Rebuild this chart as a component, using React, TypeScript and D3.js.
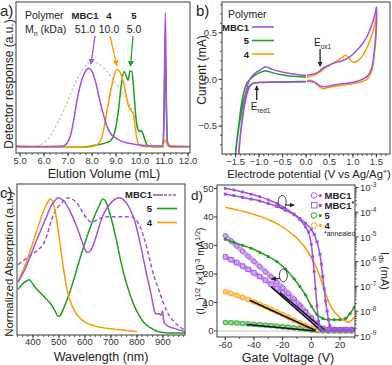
import React from "react";
import * as d3 from "d3";

type Pt = [number, number];

const FONT = "'Liberation Sans', Arial, Helvetica, sans-serif";
const PURPLE = "#a052e0";
const PURPLE_LIGHT = "#cfa6f2";
const GREEN = "#1f9f1f";
const GREEN_LIGHT = "#9ed89e";
const ORANGE = "#ff9a00";
const ORANGE_LIGHT = "#ffd08a";
const AXIS = "#3a3a3a";

// ---------- a) SEC traces: elution volume (mL) vs detector response
const secTicks = [5, 6, 7, 8, 9, 10, 11, 12];
const secPolymers = ["MBC1", "4", "5"];
const secMn = ["51.0", "10.0", "5.0"];
const secPeaks: Pt[] = [[7.95, 0.59], [9.03, 0.58], [9.6, 0.575]];
const secRef: Pt[] = [[5.5, 0.005], [6.0, 0.04], [6.3, 0.1], [6.6, 0.2], [6.9, 0.31], [7.2, 0.44], [7.5, 0.55], [7.8, 0.62], [8.0, 0.64], [8.3, 0.62], [8.7, 0.55], [9.1, 0.45], [9.45, 0.36], [9.75, 0.24], [10.0, 0.13], [10.2, 0.07], [10.4, 0.035], [10.7, 0.01], [11.0, 0.005]];
const secMBC1: Pt[] = [[4.83, 0.015], [5.5, 0.012], [6.2, 0.012], [6.8, 0.015], [6.95, 0.035], [7.1, 0.09], [7.25, 0.22], [7.4, 0.38], [7.55, 0.49], [7.7, 0.56], [7.87, 0.59], [8.0, 0.565], [8.13, 0.5], [8.25, 0.41], [8.35, 0.33], [8.5, 0.23], [8.62, 0.16], [8.8, 0.1], [9.03, 0.07], [9.3, 0.045], [9.7, 0.03], [10.1, 0.02], [10.5, 0.015], [10.9, 0.015], [10.97, 0.06], [11.01, 0.45], [11.05, 1.0], [11.09, 0.45], [11.13, 0.06], [11.25, 0.015], [12.08, 0.012]];
const secP4: Pt[] = [[4.83, 0.005], [7.0, 0.005], [7.8, 0.008], [8.1, 0.015], [8.3, 0.04], [8.45, 0.11], [8.6, 0.25], [8.75, 0.4], [8.9, 0.52], [9.03, 0.58], [9.15, 0.565], [9.3, 0.49], [9.42, 0.39], [9.52, 0.31], [9.62, 0.28], [9.72, 0.25], [9.8, 0.15], [9.88, 0.06], [9.98, 0.02], [10.2, 0.01], [10.9, 0.01], [10.98, 0.035], [11.05, 0.06], [11.12, 0.03], [11.25, 0.008], [12.08, 0.008]];
const secP5: Pt[] = [[4.83, 0.005], [7.3, 0.005], [7.8, 0.01], [8.1, 0.02], [8.4, 0.03], [8.6, 0.04], [8.8, 0.06], [8.95, 0.12], [9.1, 0.28], [9.22, 0.47], [9.33, 0.565], [9.43, 0.53], [9.5, 0.5], [9.58, 0.57], [9.66, 0.565], [9.74, 0.42], [9.82, 0.24], [9.9, 0.14], [9.98, 0.12], [10.05, 0.13], [10.13, 0.1], [10.22, 0.05], [10.35, 0.015], [10.6, 0.01], [10.96, 0.01], [11.0, 0.25], [11.05, 0.75], [11.1, 0.25], [11.15, 0.02], [11.3, 0.01], [12.08, 0.01]];

// ---------- b) cyclic voltammetry: potential (V) vs current (mA)
const cvTicks = [-1.5, -1.0, -0.5, 0.0, 0.5, 1.0, 1.5];
const cvCurrentTicks = [-0.5, 0.0, 0.5];
const cvMBC1Red: Pt[] = [[0, -0.025], [-0.3, -0.028], [-0.6, -0.03], [-0.9, -0.032], [-1.05, -0.035], [-1.13, -0.045], [-1.2, -0.08], [-1.26, -0.16], [-1.31, -0.28], [-1.36, -0.45], [-1.4, -0.62], [-1.44, -0.84], [-1.42, -0.7], [-1.38, -0.5], [-1.33, -0.3], [-1.28, -0.14], [-1.23, -0.04], [-1.17, 0.02], [-1.1, 0.06], [-1.0, 0.095], [-0.92, 0.12], [-0.86, 0.135], [-0.8, 0.125], [-0.7, 0.105], [-0.55, 0.085], [-0.4, 0.068], [-0.2, 0.052], [0, 0.042]];
const cvMBC1Ox: Pt[] = [[0.02, 0.045], [0.1, 0.052], [0.2, 0.065], [0.28, 0.085], [0.33, 0.11], [0.4, 0.13], [0.5, 0.155], [0.6, 0.175], [0.7, 0.19], [0.8, 0.205], [0.9, 0.23], [1.0, 0.27], [1.1, 0.32], [1.2, 0.38], [1.3, 0.46], [1.4, 0.58], [1.47, 0.7], [1.5, 0.78], [1.49, 0.5], [1.45, 0.28], [1.4, 0.12], [1.3, 0.03], [1.15, -0.01], [1.0, -0.03], [0.8, -0.045], [0.6, -0.06], [0.45, -0.075], [0.38, -0.08], [0.3, -0.07], [0.22, -0.04], [0.15, -0.025], [0.05, -0.02], [0.02, -0.025]];
const cvP5Red: Pt[] = [[0, -0.022], [-0.3, -0.025], [-0.6, -0.028], [-0.9, -0.03], [-1.05, -0.033], [-1.15, -0.045], [-1.22, -0.08], [-1.29, -0.16], [-1.35, -0.28], [-1.41, -0.45], [-1.46, -0.62], [-1.51, -0.84], [-1.48, -0.68], [-1.43, -0.48], [-1.38, -0.28], [-1.32, -0.13], [-1.26, -0.04], [-1.19, 0.0], [-1.1, 0.04], [-1.0, 0.07], [-0.92, 0.085], [-0.87, 0.092], [-0.8, 0.085], [-0.7, 0.07], [-0.55, 0.052], [-0.4, 0.04], [-0.2, 0.03], [0, 0.025]];
const cvP4Ox: Pt[] = [[0.02, 0.02], [0.1, 0.035], [0.2, 0.05], [0.3, 0.08], [0.4, 0.12], [0.5, 0.15], [0.6, 0.18], [0.7, 0.21], [0.78, 0.24], [0.84, 0.26], [0.9, 0.24], [0.96, 0.2], [1.02, 0.185], [1.1, 0.2], [1.2, 0.25], [1.3, 0.34], [1.4, 0.47], [1.47, 0.6], [1.5, 0.68], [1.49, 0.45], [1.45, 0.25], [1.4, 0.09], [1.3, 0.0], [1.15, -0.03], [1.0, -0.045], [0.8, -0.06], [0.6, -0.075], [0.45, -0.09], [0.38, -0.1], [0.3, -0.085], [0.22, -0.05], [0.15, -0.02], [0.08, -0.01], [0.03, -0.015]];
const cvEox1 = 0.3;
const cvEred1 = -1.05;

// ---------- c) absorption: wavelength (nm) vs normalized absorbance
const absTicks = [400, 500, 600, 700, 800, 900];
const absMBC1Sol: Pt[] = [[343, 0.38], [370, 0.48], [400, 0.62], [425, 0.74], [450, 0.85], [470, 0.94], [485, 0.98], [497, 1.0], [510, 0.99], [525, 0.96], [540, 0.91], [555, 0.85], [570, 0.78], [585, 0.7], [598, 0.63], [608, 0.6], [620, 0.61], [635, 0.67], [650, 0.76], [665, 0.85], [680, 0.91], [695, 0.95], [710, 0.98], [728, 1.0], [745, 0.99], [760, 0.96], [775, 0.91], [790, 0.84], [805, 0.73], [820, 0.6], [835, 0.46], [848, 0.35], [858, 0.26], [866, 0.18], [872, 0.15], [885, 0.15], [893, 0.14], [898, 0.17], [901, 0.13], [906, 0.08], [920, 0.06], [950, 0.04], [985, 0.02]];
const absMBC1Film: Pt[] = [[343, 0.51], [370, 0.55], [400, 0.59], [420, 0.62], [440, 0.66], [455, 0.73], [470, 0.83], [485, 0.9], [500, 0.94], [515, 0.97], [535, 1.0], [550, 0.99], [565, 0.97], [580, 0.93], [595, 0.88], [610, 0.84], [625, 0.82], [640, 0.83], [660, 0.85], [690, 0.86], [720, 0.86], [750, 0.86], [775, 0.86], [795, 0.84], [810, 0.8], [825, 0.72], [840, 0.62], [855, 0.5], [870, 0.4], [885, 0.32], [900, 0.24], [915, 0.17], [935, 0.11], [955, 0.07], [985, 0.03]];
const absP5: Pt[] = [[343, 0.33], [360, 0.37], [375, 0.39], [385, 0.4], [395, 0.38], [410, 0.34], [430, 0.3], [450, 0.26], [470, 0.22], [485, 0.17], [497, 0.13], [505, 0.14], [520, 0.2], [540, 0.3], [560, 0.42], [580, 0.55], [600, 0.67], [620, 0.78], [640, 0.88], [655, 0.94], [668, 0.99], [678, 0.98], [690, 0.92], [705, 0.82], [720, 0.7], [735, 0.56], [750, 0.44], [765, 0.34], [785, 0.23], [805, 0.15], [825, 0.09], [850, 0.05], [880, 0.02], [920, 0.01], [985, 0.01]];
const absP4: Pt[] = [[343, 0.39], [360, 0.46], [380, 0.56], [400, 0.67], [420, 0.79], [440, 0.9], [455, 0.96], [466, 0.99], [474, 0.98], [482, 0.93], [490, 0.85], [500, 0.72], [510, 0.58], [520, 0.45], [530, 0.34], [540, 0.26], [555, 0.19], [575, 0.13], [600, 0.09], [640, 0.06], [700, 0.04], [750, 0.03], [800, 0.02]];

// ---------- d) transfer curves: gate voltage (V)
const vgTicks = [-60, -40, -20, 0, 20];
const sqrtTicks = [0, 10, 20, 30, 40, 50];
const logDecades = [-9, -8, -7, -6, -5, -4, -3];
// (Ids)^1/2, x10^-3 mA^1/2
const sqrtMBC1: Pt[] = [[-60, 33.4], [-56, 31.6], [-52, 29.8], [-48, 28], [-44, 26.2], [-40, 24.4], [-36, 22.6], [-32, 20.8], [-28, 19], [-24, 17.1], [-20, 15.2], [-16, 13.2], [-12, 11.2], [-8, 9.1], [-4, 6.9], [0, 4.6], [4, 2.3], [8, 0.7], [12, 0.5], [16, 0.5], [20, 0.5], [24, 0.5], [28, 0.5]];
const sqrtMBC1a: Pt[] = [[-60, 26], [-56, 25], [-52, 23.9], [-48, 22.8], [-44, 21.6], [-40, 20.4], [-36, 19.1], [-32, 17.8], [-28, 16.4], [-24, 14.9], [-20, 13.4], [-16, 11.8], [-12, 10.1], [-8, 8.3], [-4, 6.4], [0, 4.4], [4, 2.4], [8, 0.9], [12, 0.5], [16, 0.5], [20, 0.5], [24, 0.5], [28, 0.5]];
const sqrtP5: Pt[] = [[-60, 3], [-56, 2.9], [-52, 2.8], [-48, 2.65], [-44, 2.5], [-40, 2.35], [-36, 2.2], [-32, 2.05], [-28, 1.9], [-24, 1.7], [-20, 1.5], [-16, 1.3], [-12, 1.1], [-8, 0.85], [-4, 0.6], [0, 0.35], [4, 0.15], [8, 0.05], [12, 0], [16, 0], [20, 0], [24, 0], [28, 0]];
const sqrtP4: Pt[] = [[-60, 13.8], [-56, 13.2], [-52, 12.5], [-48, 11.8], [-44, 11], [-40, 10.2], [-36, 9.4], [-32, 8.5], [-28, 7.6], [-24, 6.7], [-20, 5.8], [-16, 4.8], [-12, 3.8], [-8, 2.8], [-4, 1.9], [0, 1.1], [4, 0.7], [8, 0.6], [12, 0.6], [16, 0.6], [20, 0.6], [24, 0.6], [28, 0.6]];
// log10(Ids / mA)
const logMBC1: Pt[] = [[-60, -3.04], [-54, -3.1], [-48, -3.18], [-42, -3.27], [-36, -3.37], [-30, -3.5], [-24, -3.65], [-18, -3.85], [-12, -4.08], [-8, -4.3], [-4, -4.6], [-2, -4.8], [0, -5.3], [1, -5.8], [2, -6.4], [3, -7.1], [4, -7.8], [5, -8.4], [6, -8.7], [8, -8.8], [12, -8.8], [16, -8.8], [20, -8.8], [24, -8.8], [28, -8.8]];
const logMBC1a: Pt[] = [[-60, -3.27], [-54, -3.33], [-48, -3.4], [-42, -3.47], [-36, -3.55], [-30, -3.65], [-24, -3.77], [-18, -3.92], [-12, -4.1], [-8, -4.25], [-4, -4.45], [0, -4.7], [2, -4.9], [4, -5.2], [6, -5.7], [7, -6.1], [8, -6.6], [9, -7.1], [10, -7.6], [11, -8.0], [12, -8.35], [13, -8.6], [15, -8.75], [18, -8.75], [22, -8.75], [26, -8.75], [30, -8.75]];
const logP5: Pt[] = [[-60, -5.1], [-54, -5.22], [-48, -5.34], [-42, -5.46], [-36, -5.62], [-30, -5.8], [-24, -6.0], [-18, -6.3], [-12, -6.7], [-8, -7.0], [-4, -7.35], [0, -7.8], [4, -8.15], [8, -8.3], [12, -8.35], [16, -8.35], [20, -8.35], [24, -8.3], [27, -8.1], [30, -7.85]];
const logP4: Pt[] = [[-60, -3.8], [-54, -3.88], [-48, -3.96], [-42, -4.05], [-36, -4.16], [-30, -4.3], [-24, -4.46], [-18, -4.68], [-12, -4.95], [-6, -5.3], [-2, -5.65], [2, -6.05], [6, -6.6], [10, -7.3], [14, -7.85], [18, -8.15], [22, -8.35], [26, -8.45], [30, -8.25]];
// linear fits on sqrt curves
const sqrtFits: Pt[][] = [[[-28, 15.5], [7, 0]], [[-22, 13.5], [10, 0]], [[-43, 10.8], [3, 0.2]], [[-45, 2.3], [3, 0]]];

// ---------- scales
const xA = d3.scaleLinear().domain([4.83, 12.08]).range([16, 190]);
const yA = d3.scaleLinear().domain([-0.037, 1.08]).range([153, 2]);
const xB = d3.scaleLinear().domain([-1.79, 1.79]).range([222, 390]);
const yB = d3.scaleLinear().domain([-0.8, 0.83]).range([154, 2]);
const xC = d3.scaleLinear().domain([338.5, 985]).range([17, 185]);
const yC = d3.scaleLinear().domain([-0.005, 1.1]).range([335, 184]);
const xD = d3.scaleLinear().domain([-65.8, 30.5]).range([217, 355]);
const yDl = d3.scaleLinear().domain([-2.1, 51.2]).range([337, 185]);
const yDr = d3.scaleLinear().domain([-9.05, -2.9]).range([337, 185]);

const lineOf = (x: d3.ScaleLinear<number, number>, y: d3.ScaleLinear<number, number>, curve: d3.CurveFactory = d3.curveMonotoneX) =>
  d3.line<Pt>().x((d) => x(d[0])).y((d) => y(d[1])).curve(curve);

function Frame({ x, y }: { x: d3.ScaleLinear<number, number>; y: d3.ScaleLinear<number, number> }) {
  const [x0, x1] = x.range();
  const [y0, y1] = y.range();
  return <rect x={x0} y={y1} width={x1 - x0} height={y0 - y1} fill="none" stroke={AXIS} strokeWidth={1} />;
}

function BottomAxis({ x, yPos, major, minorStep, fmt, labelY }: { x: d3.ScaleLinear<number, number>; yPos: number; major: number[]; minorStep: number; fmt: (v: number) => string; labelY: number }) {
  const [d0, d1] = x.domain();
  const minor = d3.range(Math.ceil(d0 / minorStep) * minorStep, d1, minorStep);
  return (
    <g>
      {minor.map((v, i) => (
        <line key={"m" + i} x1={x(v)} x2={x(v)} y1={yPos} y2={yPos + 2} stroke={AXIS} strokeWidth={0.8} />
      ))}
      {major.map((v, i) => (
        <g key={i}>
          <line x1={x(v)} x2={x(v)} y1={yPos} y2={yPos + 3.5} stroke={AXIS} strokeWidth={1} />
          <text x={x(v)} y={labelY} fontSize={9.5} textAnchor="middle" fill="#333">{fmt(v)}</text>
        </g>
      ))}
    </g>
  );
}

function Arrow({ x1, y1, x2, y2, color, id }: { x1: number; y1: number; x2: number; y2: number; color: string; id: string }) {
  return <line x1={x1} y1={y1} x2={x2} y2={y2} stroke={color} strokeWidth={1.3} markerEnd={`url(#${id})`} />;
}

function PanelA() {
  const ln = lineOf(xA, yA);
  const colors = [PURPLE, ORANGE, GREEN];
  const labelX = [85, 109, 134];
  const startDx = [10, 1, -1];
  return (
    <g>
      <clipPath id="clipA"><rect x={16} y={2} width={174} height={151} /></clipPath>
      <g clipPath="url(#clipA)" fill="none">
        <path d={ln(secRef) || ""} stroke="#b8c0c0" strokeWidth={1.2} strokeDasharray="2.5,2" />
        <path d={ln(secP5) || ""} stroke={GREEN} strokeWidth={1.5} />
        <path d={ln(secP4) || ""} stroke={ORANGE} strokeWidth={1.5} />
        <path d={ln(secMBC1) || ""} stroke={PURPLE} strokeWidth={1.5} />
      </g>
      <Frame x={xA} y={yA} />
      <BottomAxis x={xA} yPos={153} major={secTicks} minorStep={0.25} fmt={d3.format(".1f")} labelY={164} />
      <text x={104} y={178} fontSize={12.5} textAnchor="middle" fill="#222">Elution Volume (mL)</text>
      <text transform="translate(13,84) rotate(-90)" fontSize={12} textAnchor="middle" fill="#222">Detector response (a.u.)</text>
      <text x={0} y={16} fontSize={15} fill="#222">a)</text>
      <text x={25} y={19} fontSize={10.5} fill="#222">Polymer</text>
      <text x={25} y={33} fontSize={10.5} fill="#222">M<tspan dy={2.5} fontSize={7}>n</tspan><tspan dy={-2.5}> (kDa)</tspan></text>
      {secPolymers.map((p, i) => (
        <g key={p}>
          <text x={labelX[i]} y={19} fontSize={9.5} fontWeight="bold" textAnchor="middle" fill="#222">{p}</text>
          <text x={labelX[i]} y={33} fontSize={10.5} textAnchor="middle" fill="#222">{secMn[i]}</text>
          <Arrow x1={labelX[i] + startDx[i]} y1={36} x2={xA(secPeaks[i][0])} y2={yA(secPeaks[i][1]) - 4} color={colors[i]} id={"ah" + i} />
        </g>
      ))}
    </g>
  );
}

function PanelB() {
  const ln = lineOf(xB, yB, d3.curveCatmullRom.alpha(0.5));
  const minorY = d3.range(-0.7, 0.81, 0.1);
  const legend = [["MBC1", PURPLE], ["5", GREEN], ["4", ORANGE]];
  return (
    <g>
      <clipPath id="clipB"><rect x={222} y={2} width={168} height={152} /></clipPath>
      <g clipPath="url(#clipB)" fill="none" strokeWidth={1.5}>
        <path d={ln(cvP5Red) || ""} stroke={GREEN} />
        <path d={ln(cvP4Ox) || ""} stroke={ORANGE} />
        <path d={ln(cvMBC1Red) || ""} stroke={PURPLE} />
        <path d={ln(cvMBC1Ox) || ""} stroke={PURPLE} />
      </g>
      <Frame x={xB} y={yB} />
      <BottomAxis x={xB} yPos={154} major={cvTicks} minorStep={0.1} fmt={d3.format(".1f")} labelY={165} />
      {minorY.map((v, i) => (
        <line key={"my" + i} x1={222} x2={220} y1={yB(v)} y2={yB(v)} stroke={AXIS} strokeWidth={0.8} />
      ))}
      {cvCurrentTicks.map((v) => (
        <g key={v}>
          <line x1={222} x2={218.5} y1={yB(v)} y2={yB(v)} stroke={AXIS} />
          <text x={217} y={yB(v) + 3.3} fontSize={9.5} textAnchor="end" fill="#333">{d3.format(".1f")(v)}</text>
        </g>
      ))}
      <text x={309} y={178} fontSize={11.3} textAnchor="middle" fill="#222">Electrode potential (V vs Ag/Ag<tspan dy={-4} fontSize={7}>+</tspan><tspan dy={4}>)</tspan></text>
      <text transform="translate(206,70) rotate(-90)" fontSize={12} textAnchor="middle" fill="#222">Current (mA)</text>
      <text x={196} y={16} fontSize={15} fill="#222">b)</text>
      <text x={228} y={18} fontSize={10.5} fill="#222">Polymer</text>
      {legend.map(([name, c], i) => (
        <g key={name}>
          <text x={249} y={30.5 + i * 13.5} fontSize={9.5} fontWeight="bold" textAnchor="end" fill="#222">{name}</text>
          <line x1={252} x2={274} y1={27 + i * 13.5} y2={27 + i * 13.5} stroke={c} strokeWidth={1.6} />
        </g>
      ))}
      <text x={xB(cvEox1) - 6} y={46} fontSize={10} fill="#222">E<tspan dy={2.5} fontSize={6.5}>ox1</tspan></text>
      <Arrow x1={xB(cvEox1)} y1={49} x2={xB(cvEox1)} y2={yB(0.14)} color="#222" id="ahk" />
      <text x={xB(cvEred1) - 6} y={110} fontSize={10} fill="#222">E<tspan dy={2.5} fontSize={6.5}>red1</tspan></text>
      <Arrow x1={xB(cvEred1)} y1={100} x2={xB(cvEred1)} y2={yB(-0.07)} color="#222" id="ahk" />
    </g>
  );
}

function PanelC() {
  const ln = lineOf(xC, yC);
  return (
    <g>
      <clipPath id="clipC"><rect x={17} y={184} width={168} height={151} /></clipPath>
      <g clipPath="url(#clipC)" fill="none" strokeWidth={1.5}>
        <path d={ln(absMBC1Film) || ""} stroke={PURPLE} strokeDasharray="4,2.5" />
        <path d={ln(absP5) || ""} stroke={GREEN} />
        <path d={ln(absP4) || ""} stroke={ORANGE} />
        <path d={ln(absMBC1Sol) || ""} stroke={PURPLE} />
      </g>
      <Frame x={xC} y={yC} />
      <BottomAxis x={xC} yPos={335} major={absTicks} minorStep={20} fmt={(v) => String(v)} labelY={345} />
      <text x={101} y={361} fontSize={12.5} textAnchor="middle" fill="#222">Wavelength (nm)</text>
      <text transform="translate(13,264) rotate(-90)" fontSize={11.5} textAnchor="middle" fill="#222">Normalized Absorption (a.u.)</text>
      <text x={0} y={198} fontSize={15} fill="#222">c)</text>
      <text x={152} y={198} fontSize={9.5} fontWeight="bold" textAnchor="end" fill="#222">MBC1</text>
      <line x1={153} x2={163} y1={195} y2={195} stroke={PURPLE} strokeWidth={1.6} />
      <line x1={164} x2={177} y1={195} y2={195} stroke={PURPLE} strokeWidth={1.6} strokeDasharray="3,1.5" />
      <text x={152} y={212} fontSize={9.5} fontWeight="bold" textAnchor="end" fill="#222">5</text>
      <line x1={157} x2={177} y1={208.5} y2={208.5} stroke={GREEN} strokeWidth={1.6} />
      <text x={152} y={226} fontSize={9.5} fontWeight="bold" textAnchor="end" fill="#222">4</text>
      <line x1={157} x2={177} y1={222.5} y2={222.5} stroke={ORANGE} strokeWidth={1.6} />
    </g>
  );
}

function OpenMarks({ data, color, square }: { data: Pt[]; color: string; square?: boolean }) {
  return (
    <g fill="none" stroke={color} strokeWidth={0.8}>
      {data.map((d, i) =>
        square ? (
          <rect key={i} x={xD(d[0]) - 2.2} y={yDl(d[1]) - 2.2} width={4.4} height={4.4} />
        ) : (
          <circle key={i} cx={xD(d[0])} cy={yDl(d[1])} r={2.3} />
        )
      )}
    </g>
  );
}

function FilledMarks({ data, color, square }: { data: Pt[]; color: string; square?: boolean }) {
  return (
    <g fill={color}>
      {data.map((d, i) =>
        square ? (
          <rect key={i} x={xD(d[0]) - 1.5} y={yDr(d[1]) - 1.5} width={3} height={3} />
        ) : (
          <circle key={i} cx={xD(d[0])} cy={yDr(d[1])} r={1.6} />
        )
      )}
    </g>
  );
}

function PanelD() {
  const lnL = lineOf(xD, yDl);
  const lnR = lineOf(xD, yDr);
  const fit = d3.line<Pt>().x((d) => xD(d[0])).y((d) => yDl(d[1]));
  const minorLog = logDecades.slice(0, -1).flatMap((e) => d3.range(2, 10).map((m) => e + Math.log10(m)));
  const legend: [string, string, boolean, boolean][] = [["MBC1", PURPLE, false, false], ["MBC1", PURPLE, true, true], ["5", GREEN, false, false], ["4", ORANGE, false, false]];
  const ellipses = [
    { x: xD(-20.3), y: yDr(-3.58), dir: 1 },
    { x: xD(-19.5), y: yDl(19.5), dir: -1 },
  ];
  return (
    <g>
      <clipPath id="clipD"><rect x={217} y={185} width={138} height={152} /></clipPath>
      <line x1={217} x2={355} y1={yDl(0)} y2={yDl(0)} stroke="#c8c8c8" strokeWidth={1.2} />
      <g clipPath="url(#clipD)">
        <g fill="none" strokeLinecap="round">
          <path d={lnL(sqrtP5) || ""} stroke={GREEN_LIGHT} strokeWidth={5} />
          <path d={lnL(sqrtP4) || ""} stroke={ORANGE_LIGHT} strokeWidth={5} />
          <path d={lnL(sqrtMBC1a) || ""} stroke={PURPLE_LIGHT} strokeWidth={5} />
          <path d={lnL(sqrtMBC1) || ""} stroke={PURPLE_LIGHT} strokeWidth={5} />
        </g>
        <OpenMarks data={sqrtP5} color={GREEN} />
        <OpenMarks data={sqrtP4} color={ORANGE} />
        <OpenMarks data={sqrtMBC1a} color={PURPLE} square />
        <OpenMarks data={sqrtMBC1} color={PURPLE} />
        {sqrtFits.map((f, i) => (
          <path key={i} d={fit(f) || ""} stroke="#111" strokeWidth={1.6} fill="none" />
        ))}
        <g fill="none" strokeWidth={1.5}>
          <path d={lnR(logP5) || ""} stroke={GREEN} />
          <path d={lnR(logP4) || ""} stroke={ORANGE} />
          <path d={lnR(logMBC1a) || ""} stroke={PURPLE} />
          <path d={lnR(logMBC1) || ""} stroke={PURPLE} />
        </g>
        <FilledMarks data={logP5} color={GREEN} />
        <FilledMarks data={logMBC1a} color={PURPLE} square />
        <FilledMarks data={logMBC1} color={PURPLE} />
      </g>
      <Frame x={xD} y={yDl} />
      <BottomAxis x={xD} yPos={337} major={vgTicks} minorStep={10} fmt={(v) => String(v)} labelY={348} />
      {sqrtTicks.map((v) => (
        <g key={v}>
          <line x1={217} x2={214} y1={yDl(v)} y2={yDl(v)} stroke={AXIS} />
          <text x={213.5} y={yDl(v) + 3.3} fontSize={9.5} textAnchor="end" fill="#333">{v}</text>
        </g>
      ))}
      {minorLog.map((v, i) => (
        <line key={"ml" + i} x1={355} x2={357} y1={yDr(v)} y2={yDr(v)} stroke={AXIS} strokeWidth={0.7} />
      ))}
      {logDecades.map((e) => (
        <g key={e}>
          <line x1={355} x2={358.5} y1={yDr(e)} y2={yDr(e)} stroke={AXIS} />
          <text x={360} y={yDr(e) + 4} fontSize={9.5} fill="#333">10<tspan dy={-4.5} fontSize={6.5}>{e}</tspan></text>
        </g>
      ))}
      <text x={288} y={362} fontSize={12.5} textAnchor="middle" fill="#222">Gate Voltage (V)</text>
      <text transform="translate(204,271) rotate(-90)" fontSize={10} textAnchor="middle" fill="#222">
        (I<tspan dy={2.5} fontSize={7}>ds</tspan><tspan dy={-2.5}>)</tspan><tspan dy={-4} fontSize={7}>1/2</tspan><tspan dy={4}> (×10</tspan><tspan dy={-4} fontSize={7}>-3</tspan><tspan dy={4}> mA</tspan><tspan dy={-4} fontSize={7}>1/2</tspan><tspan dy={4}>)</tspan>
      </text>
      <text transform="translate(381,271) rotate(90)" fontSize={11} textAnchor="middle" fill="#222">
        I<tspan dy={2.5} fontSize={7.5}>ds</tspan><tspan dy={-2.5}> (mA)</tspan>
      </text>
      <text x={191} y={200} fontSize={13.5} fill="#222">d)</text>
      {ellipses.map((e, i) => (
        <g key={i} fill="none" stroke="#333" strokeWidth={0.9}>
          <ellipse cx={e.x} cy={e.y} rx={4} ry={6.5} />
          <Arrow x1={e.x + e.dir * 3} y1={e.y + 3} x2={e.x + e.dir * 12} y2={e.y + 3.5} color="#333" id="ahk" />
        </g>
      ))}
      {legend.map(([name, c, sq, star], i) => {
        const y = 195.5 + i * 10;
        return (
          <g key={i}>
            {sq ? (
              <rect x={311.5} y={y - 3} width={5.5} height={5.5} fill="none" stroke={c} strokeWidth={0.9} />
            ) : (
              <circle cx={314} cy={y} r={2.8} fill="none" stroke={c} strokeWidth={0.9} />
            )}
            {sq ? <rect x={318.8} y={y - 1.5} width={3} height={3} fill={c} /> : <circle cx={320.3} cy={y} r={1.6} fill={c} />}
            <text x={324.5} y={y + 3.3} fontSize={9.5} fontWeight="bold" fill="#222">
              {name}
              {star ? <tspan dy={-3} fontSize={7}>*</tspan> : null}
            </text>
          </g>
        );
      })}
      <text x={324} y={236} fontSize={7} fill="#222">*annealed</text>
    </g>
  );
}

export default function App() {
  return (
    <svg width={392} height={365} style={{ position: "absolute", left: 0, top: 0 }} fontFamily={FONT}>
      <defs>
        {[PURPLE, ORANGE, GREEN].map((c, i) => (
          <marker key={i} id={"ah" + i} viewBox="0 0 10 10" refX={9} refY={5} markerWidth={6} markerHeight={6} markerUnits="userSpaceOnUse" orient="auto">
            <path d="M0,0 L10,5 L0,10 z" fill={c} />
          </marker>
        ))}
        <marker id="ahk" viewBox="0 0 10 10" refX={9} refY={5} markerWidth={5} markerHeight={5} markerUnits="userSpaceOnUse" orient="auto">
          <path d="M0,0 L10,5 L0,10 z" fill="#222" />
        </marker>
      </defs>
      <rect width={392} height={365} fill="#fff" />
      <PanelA />
      <PanelB />
      <PanelC />
      <PanelD />
    </svg>
  );
}
